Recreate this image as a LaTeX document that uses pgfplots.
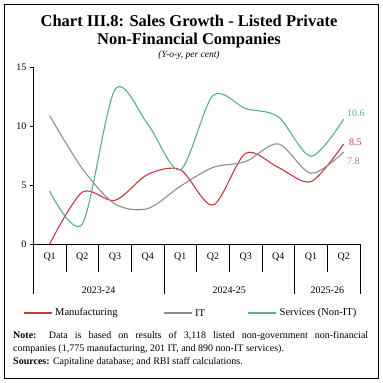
\documentclass[border=0pt]{standalone}
\usepackage{pgfplots}
\pgfplotsset{compat=1.18}
\usepackage{fontspec}
\setmainfont{Liberation Serif}
\definecolor{manu}{HTML}{C8363F}
\definecolor{itc}{HTML}{8E8E8E}
\definecolor{serv}{HTML}{5AAE8A}
\begin{document}
\begin{tikzpicture}
\useasboundingbox (0pt,0pt) rectangle (383pt,-383pt);
\draw[line width=0.9pt] (4pt,-4pt) rectangle (378pt,-378pt);
\node[font=\fontsize{16.5}{18}\selectfont\bfseries, align=center] at (189pt,-21pt) {Chart III.8: Sales Growth - Listed Private};
\node[font=\fontsize{16.5}{18}\selectfont\bfseries, align=center] at (189pt,-41pt) {Non-Financial Companies};
\node[font=\fontsize{9.5}{10}\selectfont\itshape] at (189pt,-55.5pt) {(Y-o-y, per cent)};
\begin{axis}[
  at={(33.3pt,-244pt)}, anchor=south west,
  scale only axis, width=326.7pt, height=176.7pt,
  xmin=-0.5, xmax=9.5, ymin=0, ymax=15,
  axis lines*=left,
  axis line style={black, line width=0.7pt},
  xtick=\empty,
  ytick={0,5,10,15},
  tick align=outside,
  major tick length=3.5pt,
  tick style={black, line width=0.7pt},
  yticklabel style={font=\fontsize{10}{12}\selectfont},
  /pgf/number format/assume math mode=true,
  clip=false,
  every axis plot/.append style={line width=1.1pt, smooth, tension=0.5, no marks},
]
\addplot[manu] coordinates {(0,0.0) (1,4.4) (2,3.7) (3,5.9) (4,6.3) (5,3.3) (6,7.7) (7,6.5) (8,5.3) (9,8.5)};
\addplot[itc] coordinates {(0,10.9) (1,6.4) (2,3.4) (3,3.0) (4,4.9) (5,6.5) (6,7.0) (7,8.5) (8,6.0) (9,7.8)};
\addplot[serv] coordinates {(0,4.5) (1,1.7) (2,13.1) (3,10.2) (4,6.3) (5,12.6) (6,11.5) (7,10.8) (8,7.45) (9,10.6)};
% category separators
\pgfplotsinvokeforeach{0.5,1.5,2.5,4.5,5.5,6.5,8.5}{
  \draw[black, line width=0.7pt] (axis cs:#1,0) -- ++(0pt,-28pt);
}
\pgfplotsinvokeforeach{-0.5,3.5,7.5,9.5}{
  \draw[black, line width=0.7pt] (axis cs:#1,0) -- ++(0pt,-50pt);
}
\node[font=\fontsize{10}{12}\selectfont, yshift=-13pt] at (axis cs:0,0) {Q1};
\node[font=\fontsize{10}{12}\selectfont, yshift=-13pt] at (axis cs:1,0) {Q2};
\node[font=\fontsize{10}{12}\selectfont, yshift=-13pt] at (axis cs:2,0) {Q3};
\node[font=\fontsize{10}{12}\selectfont, yshift=-13pt] at (axis cs:3,0) {Q4};
\node[font=\fontsize{10}{12}\selectfont, yshift=-13pt] at (axis cs:4,0) {Q1};
\node[font=\fontsize{10}{12}\selectfont, yshift=-13pt] at (axis cs:5,0) {Q2};
\node[font=\fontsize{10}{12}\selectfont, yshift=-13pt] at (axis cs:6,0) {Q3};
\node[font=\fontsize{10}{12}\selectfont, yshift=-13pt] at (axis cs:7,0) {Q4};
\node[font=\fontsize{10}{12}\selectfont, yshift=-13pt] at (axis cs:8,0) {Q1};
\node[font=\fontsize{10}{12}\selectfont, yshift=-13pt] at (axis cs:9,0) {Q2};
\node[font=\fontsize{10}{12}\selectfont, yshift=-46.5pt] at (axis cs:1.5,0) {2023-24};
\node[font=\fontsize{10}{12}\selectfont, yshift=-46.5pt] at (axis cs:5.5,0) {2024-25};
\node[font=\fontsize{10}{12}\selectfont, yshift=-46.5pt] at (axis cs:8.5,0) {2025-26};
\node[font=\fontsize{10}{12}\selectfont, text=serv, anchor=west, yshift=6pt] at (axis cs:9,10.6) {10.6};
\node[font=\fontsize{10}{12}\selectfont, text=manu, anchor=west, xshift=2pt, yshift=2pt] at (axis cs:9,8.5) {8.5};
\node[font=\fontsize{10}{12}\selectfont, text=itc, anchor=west, yshift=-9pt] at (axis cs:9,7.8) {7.8};
\end{axis}
\draw[black, line width=0.7pt] (33.3pt,-244pt) -- (33.3pt,-294pt);
% legend
\fill[fill=manu] (24pt,-312.4pt) rectangle (51.7pt,-314.2pt);
\fill[fill=itc] (164.3pt,-312.4pt) rectangle (191.7pt,-314.2pt);
\fill[fill=serv] (248pt,-312.4pt) rectangle (276pt,-314.2pt);
\node[anchor=west, font=\fontsize{10.5}{12}\selectfont, inner sep=0pt] at (55pt,-313.3pt) {Manufacturing};
\node[anchor=west, font=\fontsize{10.5}{12}\selectfont, inner sep=0pt] at (195pt,-313.3pt) {IT};
\node[anchor=west, font=\fontsize{10.5}{12}\selectfont, inner sep=0pt] at (279.5pt,-313.3pt) {Services (Non-IT)};
% note
\node[anchor=north west, inner sep=0pt, font=\fontsize{10}{13.3}\selectfont] at (13pt,-331pt) {\parbox{355pt}{\noindent\textbf{Note:} Data is based on results of 3,118 listed non-government non-financial\linebreak companies (1,775 manufacturing, 201 IT, and 890 non-IT services).\\
\textbf{Sources:} Capitaline database; and RBI staff calculations.}};
\end{tikzpicture}
\end{document}
